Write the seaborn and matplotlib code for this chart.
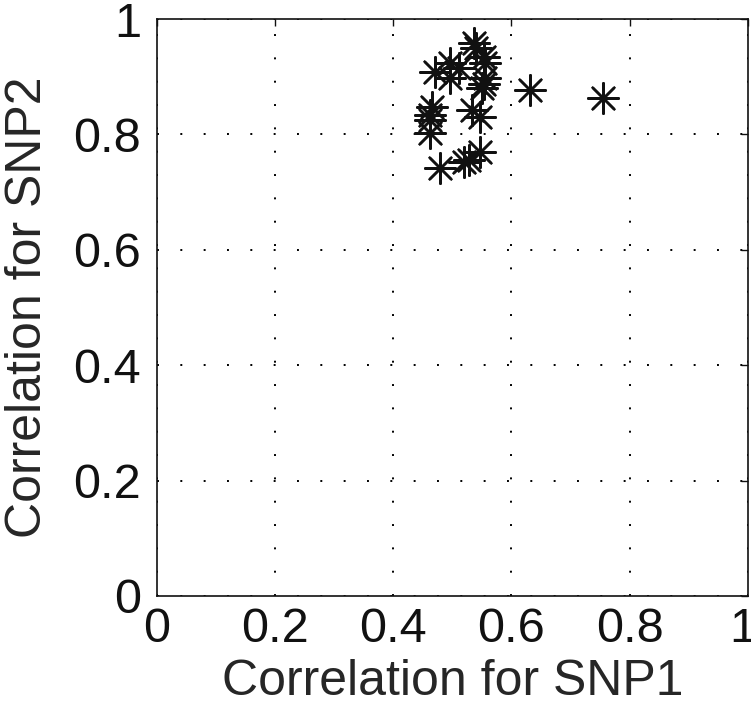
import numpy as np
import seaborn as sns
import pandas as pd
import matplotlib.pyplot as plt
import matplotlib.transforms as mtransforms

# correlation values
snp1 = [0.536, 0.553, 0.497, 0.471, 0.511, 0.497, 0.556, 0.550, 0.553, 0.631,
        0.755, 0.466, 0.463, 0.463, 0.533, 0.547, 0.463, 0.547, 0.528, 0.520,
        0.480, 0.556, 0.540]
snp2 = [0.958, 0.935, 0.923, 0.909, 0.915, 0.897, 0.897, 0.880, 0.888, 0.877,
        0.863, 0.848, 0.834, 0.825, 0.843, 0.831, 0.802, 0.770, 0.756, 0.752,
        0.742, 0.924, 0.950]
ticks = [0, 0.2, 0.4, 0.6, 0.8, 1]
tick_labels = ['0', '0.2', '0.4', '0.6', '0.8', '1']

df = pd.DataFrame({'snp1': snp1, 'snp2': snp2})

sns.set_style("white")
plt.rcParams['font.family'] = ['Liberation Sans', 'DejaVu Sans']

fig = plt.figure(figsize=(7.51, 7.17), dpi=100)
ax = fig.add_axes([0.2084, 0.1688, 0.7876, 0.8047])

sns.scatterplot(x='snp1', y='snp2', data=df, ax=ax, marker=(8, 2, 0),
                s=480, color='#111111', linewidth=1.8, edgecolor='#111111',
                legend=False)

ax.set_xlim(0, 1)
ax.set_ylim(0, 1)
ax.set_xticks(ticks)
ax.set_yticks(ticks)
ax.set_xticklabels(tick_labels)
ax.set_yticklabels(tick_labels)
ax.set_xlabel('Correlation for SNP1', fontsize=36, labelpad=5)
ax.set_ylabel('Correlation for SNP2', fontsize=36, labelpad=16)
ax.tick_params(direction='in', length=5, width=1, labelsize=35,
               top=True, right=True, colors='#111111')
ax.tick_params(axis='x', pad=8)
ax.tick_params(axis='y', pad=11)
ax.grid(True, color='black', linestyle=(0, (1, 11)), linewidth=1.4)
for sp in ax.spines.values():
    sp.set_color('#111111')
    sp.set_linewidth(1.2)

# nudge the last x tick label so it stays inside the figure
last = ax.get_xticklabels()[-1]
last.set_transform(last.get_transform() +
                   mtransforms.ScaledTranslation(-5 / 100, 0, fig.dpi_scale_trans))

fig.savefig('out.png', dpi=100)
